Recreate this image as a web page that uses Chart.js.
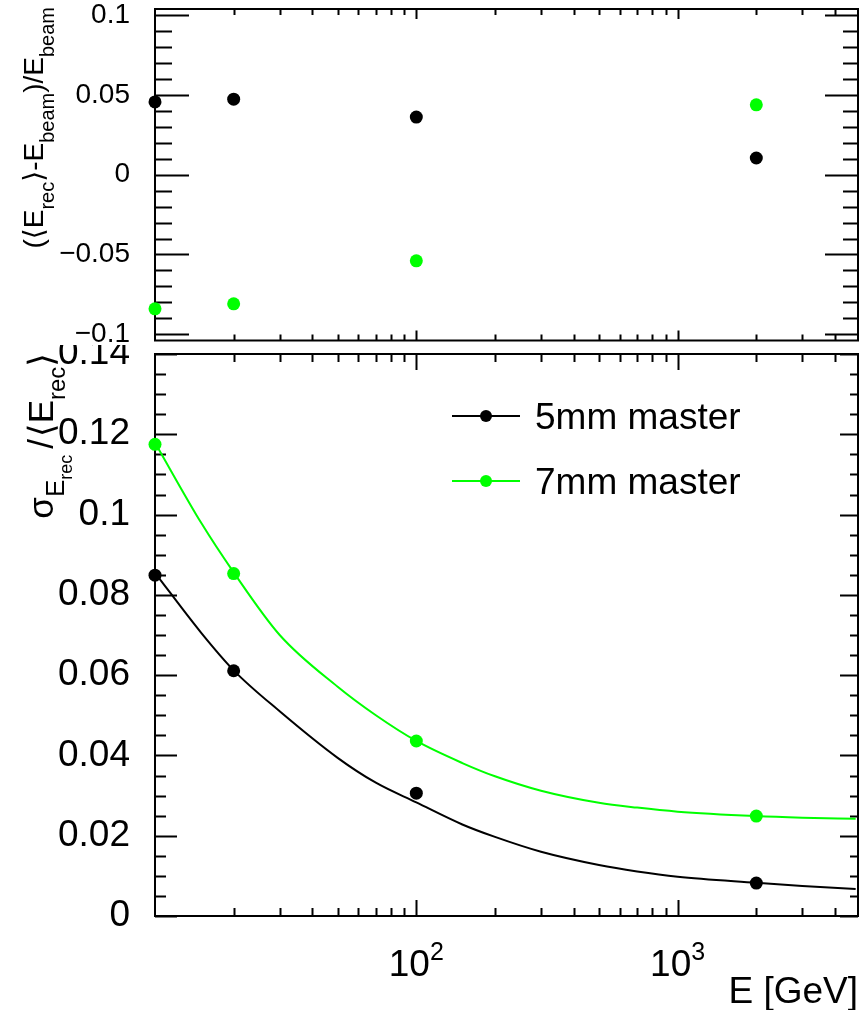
<!DOCTYPE html>
<html>
<head>
<meta charset="utf-8">
<script src="https://cdn.jsdelivr.net/npm/chart.js@4.4.1/dist/chart.umd.min.js"></script>
<style>
  body { margin: 0; background: #fff; }
  #wrap { position: relative; width: 866px; height: 1010px; }
  canvas { position: absolute; left: 0; background: #fff; }
  #top { top: 0; }
  #bottom { top: 345px; }
</style>
</head>
<body>
<div id="wrap">
  <canvas id="top" width="866" height="347"></canvas>
  <canvas id="bottom" width="866" height="665"></canvas>
</div>
<script>
// beam energies (GeV)
const energies = [10, 20, 100, 2000];

// top pad: (<E_rec> - E_beam) / E_beam
const bias5mm = [0.0457, 0.0474, 0.0362, 0.0105];
const bias7mm = [-0.0841, -0.0810, -0.0540, 0.0439];

// bottom pad: sigma / <E_rec>
const res5mm = [0.0849, 0.0611, 0.0306, 0.0082];
const res7mm = [0.1175, 0.0853, 0.0436, 0.0249];

// fit curves
const fitE = [10, 15, 20, 30, 50, 70, 100, 150, 200, 300, 500, 700, 1000, 2000, 3000, 4800];
const fitRes5mm = [0.0855, 0.0706, 0.0612, 0.0510, 0.0394, 0.0332, 0.0283, 0.0228, 0.0197, 0.0160, 0.0127, 0.0111, 0.0098, 0.0083, 0.0075, 0.0067];
const fitRes7mm = [0.1179, 0.0980, 0.0856, 0.0700, 0.0571, 0.0500, 0.0436, 0.0381, 0.0348, 0.0312, 0.0282, 0.0270, 0.0260, 0.0249, 0.0245, 0.0242];

// axes
const xMin = 10, xMax = 4900;
const topYTicks = [-0.1, -0.05, 0, 0.05, 0.1];
const bottomYTicks = [0, 0.02, 0.04, 0.06, 0.08, 0.1, 0.12, 0.14];
const xTickValues = [100, 1000];
const xTickExponents = ['2', '3'];
const legendLabels = ['5mm master', '7mm master'];
const colors = ['#000000', '#00ff00'];

const FONT = '"Liberation Sans", Arial, Helvetica, "DejaVu Sans", sans-serif';

function pts(xs, ys) {
  return xs.map((x, i) => ({ x: x, y: ys[i] }));
}

function fmt(v) {
  const s = String(Number(v.toFixed(3)));
  return v < 0 ? '\u2212' + s.slice(1) : s;
}

// draws a row of text pieces (for sub/superscripts), optionally rotated
function drawParts(ctx, parts, x, y, rotate, align) {
  ctx.save();
  ctx.translate(x, y);
  if (rotate) ctx.rotate(-Math.PI / 2);
  let total = 0;
  parts.forEach(p => {
    ctx.font = p.size + 'px ' + FONT;
    p.w = ctx.measureText(p.t).width;
    total += p.w + (p.gap || 0);
  });
  let cx = align === 'end' ? -total : align === 'center' ? -total / 2 : 0;
  ctx.fillStyle = '#000';
  ctx.textAlign = 'left';
  ctx.textBaseline = 'alphabetic';
  parts.forEach(p => {
    ctx.font = p.size + 'px ' + FONT;
    ctx.fillText(p.t, cx, p.dy || 0);
    cx += p.w + (p.gap || 0);
  });
  ctx.restore();
}

// ROOT-like frame with inward ticks on all four sides
const rootFrame = {
  id: 'rootFrame',
  beforeDatasetsDraw(chart, args, o) {
    const { ctx, chartArea: a } = chart;
    const x = chart.scales.x, y = chart.scales.y;
    ctx.save();
    ctx.strokeStyle = '#000';
    ctx.lineWidth = 2;
    ctx.strokeRect(a.left, a.top, a.right - a.left, a.bottom - a.top);
    ctx.beginPath();
    const k0 = Math.ceil(y.min / o.yMinor - 1e-6), k1 = Math.floor(y.max / o.yMinor + 1e-6);
    for (let k = k0; k <= k1; k++) {
      const v = k * o.yMinor;
      const r = v / o.yMajor;
      const major = Math.abs(r - Math.round(r)) < 1e-6;
      const py = Math.round(y.getPixelForValue(v)) + 0.5;
      ctx.moveTo(a.left, py);
      ctx.lineTo(a.left + (major ? o.yMajorLen : o.yMinorLen), py);
      ctx.moveTo(a.right, py);
      ctx.lineTo(a.right - (major ? o.yRMajorLen : o.yRMinorLen), py);
    }
    for (let d = 1; d <= 3; d++) {
      for (let m = 1; m <= 9; m++) {
        const v = m * Math.pow(10, d);
        if (v <= xMin || v >= xMax) continue;
        const len = m === 1 ? o.xMajorLen : o.xMinorLen;
        const px = Math.round(x.getPixelForValue(v)) + 0.5;
        ctx.moveTo(px, a.bottom);
        ctx.lineTo(px, a.bottom - len);
        ctx.moveTo(px, a.top);
        ctx.lineTo(px, a.top + len);
      }
    }
    ctx.stroke();
    ctx.restore();
  }
};

// axis titles, x labels and legend
const rootText = {
  id: 'rootText',
  afterDraw(chart, args, o) {
    const ctx = chart.ctx;
    if (o.pad === 'top') {
      const F = 28, f = 20, d = 11;
      drawParts(ctx, [
        { t: '(', size: F }, { t: '\u27e8', size: F }, { t: 'E', size: F },
        { t: 'rec', size: f, dy: d }, { t: '\u27e9', size: F }, { t: '-', size: F },
        { t: 'E', size: F }, { t: 'beam', size: f, dy: d }, { t: ')', size: F },
        { t: '/', size: F }, { t: 'E', size: F }, { t: 'beam', size: f, dy: d }
      ], 43, 7, true, 'end');
    } else {
      const F = 35;
      drawParts(ctx, [
        { t: '\u03c3', size: F }, { t: 'E', size: 26, dy: 11 },
        { t: 'rec', size: 18, dy: 19, gap: 6 }, { t: '/', size: F, gap: 2 },
        { t: '\u27e8', size: F }, { t: 'E', size: F }, { t: 'rec', size: 24, dy: 12 },
        { t: '\u27e9', size: F }
      ], 53, 8, true, 'end');

      const x = chart.scales.x;
      const base = 976 - 345;
      xTickValues.forEach((v, i) => {
        drawParts(ctx, [
          { t: '10', size: 37 }, { t: xTickExponents[i], size: 25, dy: -16 }
        ], x.getPixelForValue(v), base, false, 'center');
      });
      drawParts(ctx, [{ t: 'E [GeV]', size: 37 }], 858, 1003 - 345, false, 'end');

      const rowsY = [416 - 345, 481 - 345];
      legendLabels.forEach((lab, i) => {
        const yy = rowsY[i];
        ctx.save();
        ctx.strokeStyle = colors[i];
        ctx.lineWidth = 2;
        ctx.beginPath();
        ctx.moveTo(452, yy);
        ctx.lineTo(520, yy);
        ctx.stroke();
        ctx.fillStyle = colors[i];
        ctx.beginPath();
        ctx.arc(486, yy, 6, 0, Math.PI * 2);
        ctx.fill();
        ctx.restore();
        drawParts(ctx, [{ t: lab, size: 37 }], 535, yy + 13, false, 'start');
      });
    }
  }
};

function yScale(min, max, ticks, fontSize) {
  return {
    type: 'linear',
    min: min,
    max: max,
    afterBuildTicks: s => { s.ticks = ticks.map(v => ({ value: v })); },
    afterFit: s => {
      s.width = 155;
      s.paddingTop = 0;
      s.paddingBottom = 0;
    },
    grid: { display: false },
    border: { display: false },
    ticks: {
      color: '#000',
      padding: 17,
      font: { family: FONT, size: fontSize },
      callback: v => fmt(v)
    }
  };
}

const xScale = { type: 'logarithmic', min: xMin, max: xMax, display: false };

function pointSet(data, color) {
  return {
    data: data, showLine: false, clip: false,
    pointRadius: 6.5, pointHoverRadius: 6.5, pointBorderWidth: 0,
    backgroundColor: color, borderColor: color, order: 0
  };
}

function fitSet(data, color) {
  return {
    data: data, showLine: true, clip: false, pointRadius: 0, pointHoverRadius: 0,
    borderColor: color, borderWidth: 2, cubicInterpolationMode: 'monotone', order: 1
  };
}

new Chart(document.getElementById('top'), {
  type: 'scatter',
  data: {
    datasets: [
      pointSet(pts(energies, bias5mm), colors[0]),
      pointSet(pts(energies, bias7mm), colors[1])
    ]
  },
  options: {
    responsive: false,
    animation: false,
    events: [],
    layout: { padding: { left: 0, right: 8, top: 9, bottom: 5 } },
    scales: { x: xScale, y: yScale(-0.104, 0.104, topYTicks, 28) },
    plugins: {
      legend: { display: false },
      tooltip: { enabled: false },
      rootFrame: { yMajor: 0.05, yMinor: 0.01, yMajorLen: 34, yMinorLen: 17, yRMajorLen: 33, yRMinorLen: 15, xMajorLen: 10, xMinorLen: 6 },
      rootText: { pad: 'top' }
    }
  },
  plugins: [rootFrame, rootText]
});

new Chart(document.getElementById('bottom'), {
  type: 'scatter',
  data: {
    datasets: [
      pointSet(pts(energies, res5mm), colors[0]),
      pointSet(pts(energies, res7mm), colors[1]),
      fitSet(pts(fitE, fitRes5mm), colors[0]),
      fitSet(pts(fitE, fitRes7mm), colors[1])
    ]
  },
  options: {
    responsive: false,
    animation: false,
    events: [],
    layout: { padding: { left: 0, right: 8, top: 9, bottom: 94 } },
    scales: { x: xScale, y: yScale(0, 0.14, bottomYTicks, 37) },
    plugins: {
      legend: { display: false },
      tooltip: { enabled: false },
      rootFrame: { yMajor: 0.02, yMinor: 0.005, yMajorLen: 22, yMinorLen: 11, yRMajorLen: 18, yRMinorLen: 8, xMajorLen: 16, xMinorLen: 8 },
      rootText: { pad: 'bottom' }
    }
  },
  plugins: [rootFrame, rootText]
});
</script>
</body>
</html>
